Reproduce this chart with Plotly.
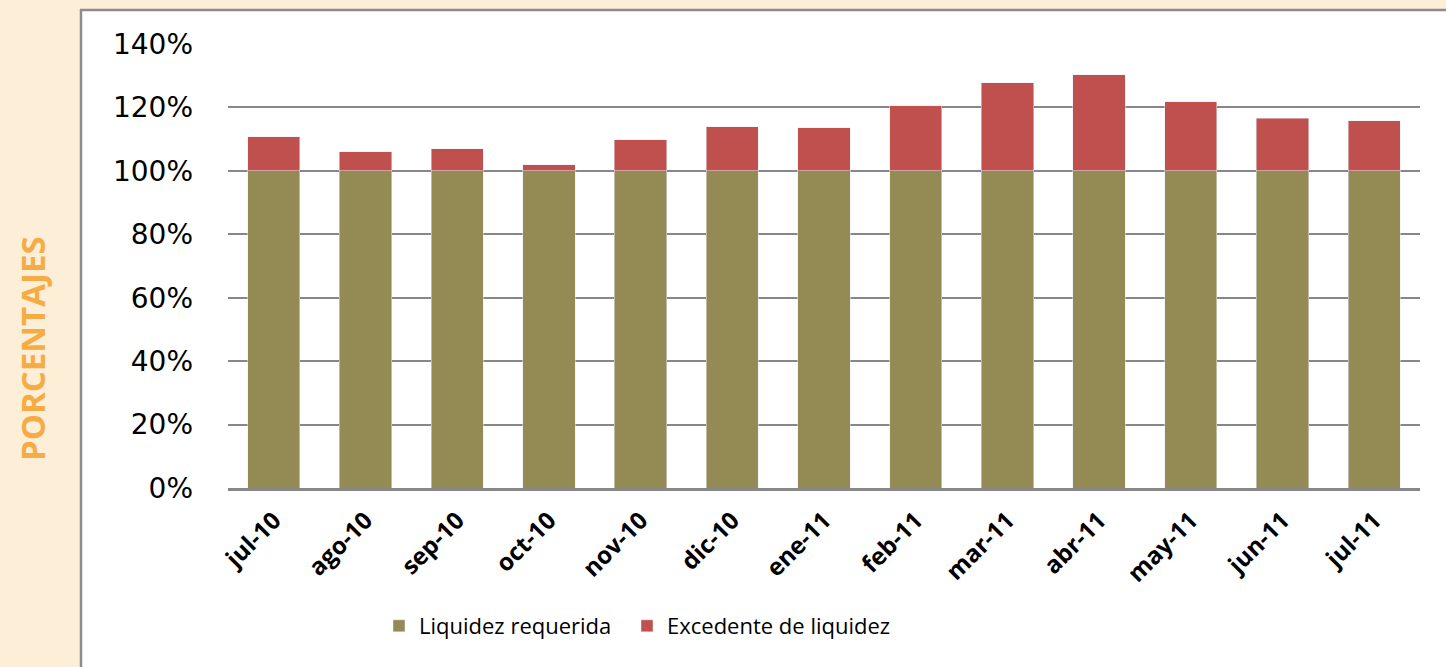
import plotly.graph_objects as go

meses = ["jul-10", "ago-10", "sep-10", "oct-10", "nov-10", "dic-10", "ene-11",
         "feb-11", "mar-11", "abr-11", "may-11", "jun-11", "jul-11"]
requerida = [1.00] * 13
excedente = [0.107, 0.061, 0.069, 0.019, 0.098, 0.139, 0.136,
             0.205, 0.278, 0.303, 0.218, 0.166, 0.158]

W, H = 1446, 667
L, R, T, B = 228, 26, 44, 179
pw, ph = W - L - R, H - T - B

def px_x(x):
    return (x - L) / pw

def px_y(y):
    return (H - B - y) / ph

fig = go.Figure()
fig.add_trace(go.Bar(x=meses, y=requerida, name="Liquidez requerida",
                     marker_color="#948A54", legend="legend"))
fig.add_trace(go.Bar(x=meses, y=excedente, name="Excedente de liquidez",
                     marker_color="#C0504D", legend="legend2"))

# white panel with grey border on left and top
fig.add_shape(type="rect", xref="paper", yref="paper", layer="below",
              x0=px_x(81), x1=px_x(W + 5), y0=px_y(H + 5), y1=px_y(10),
              fillcolor="white", line_width=0)
fig.add_shape(type="line", xref="paper", yref="paper", layer="below",
              x0=px_x(81), x1=px_x(81), y0=px_y(H + 5), y1=px_y(9),
              line=dict(color="#8C8C8C", width=2.5))
fig.add_shape(type="line", xref="paper", yref="paper", layer="below",
              x0=px_x(80), x1=px_x(W + 5), y0=px_y(10), y1=px_y(10),
              line=dict(color="#8C8C8C", width=2.5))

fig.add_annotation(text="<b>PORCENTAJES</b>", textangle=-90,
                   xref="paper", yref="paper", x=px_x(32), y=px_y(348),
                   xanchor="center", yanchor="middle", showarrow=False,
                   font=dict(family="Open Sans", size=33, color="#F5AC45"))

leg_style = dict(orientation="h", xref="container", yref="container",
                 y=1 - 626 / H, xanchor="left", yanchor="middle",
                 font=dict(family="Open Sans", size=22, color="black"),
                 bgcolor="rgba(0,0,0,0)", itemwidth=30)

fig.update_layout(
    barmode="stack",
    bargap=0.43,
    width=W, height=H,
    margin=dict(l=L, r=R, t=T, b=B, autoexpand=False),
    paper_bgcolor="#FDEED8",
    plot_bgcolor="white",
    legend=dict(x=379 / W, **leg_style),
    legend2=dict(x=627 / W, **leg_style),
    showlegend=True,
)
fig.update_xaxes(tickangle=-45, showgrid=False, showline=True,
                 linecolor="#878787", linewidth=2.5, ticks="",
                 tickfont=dict(family="Open Sans", size=24, color="black",
                               weight="bold"),
                 ticklabelstandoff=6)
fig.update_yaxes(range=[0, 1.4], dtick=0.2, tickformat=".0%",
                 gridcolor="#878787", gridwidth=2, zeroline=False,
                 tickfont=dict(family="DejaVu Sans", size=28, color="black"),
                 ticklabelstandoff=34)

fig.write_html("out.html", config={"displayModeBar": False},
               post_script="document.body.style.margin='0';")
